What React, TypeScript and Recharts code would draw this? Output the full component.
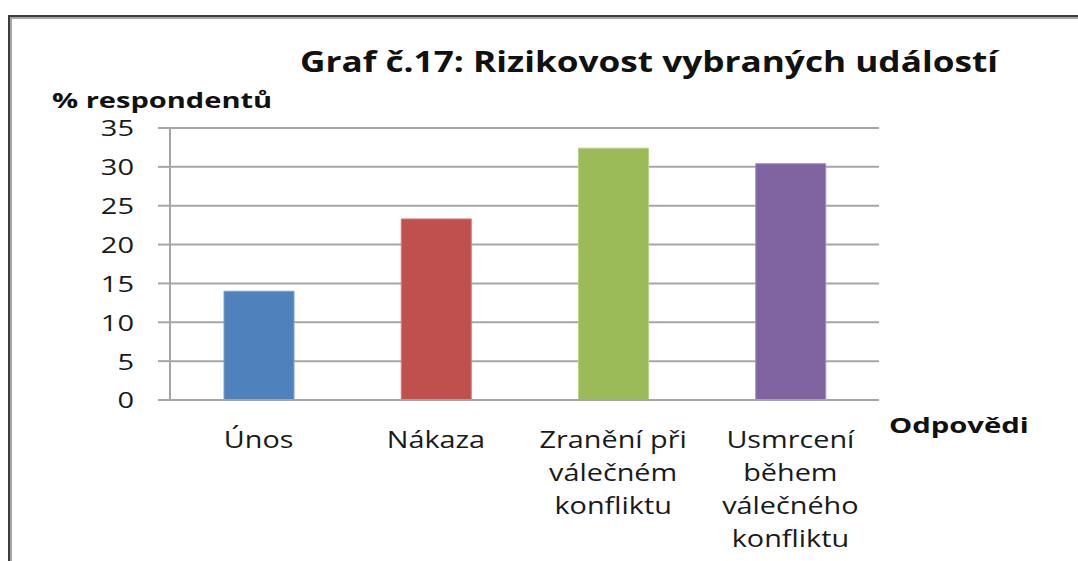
import React from "react";
import { BarChart, Bar, XAxis, YAxis, CartesianGrid, Cell } from "recharts";

// chart data
const categories = [
  "Únos",
  "Nákaza",
  "Zranění při\nválečném\nkonfliktu",
  "Usmrcení\nběhem\nválečného\nkonfliktu",
];
const percentValues = [14.0, 23.3, 32.4, 30.4];
const barColors = ["#4F81BD", "#C0504D", "#9BBB59", "#8064A2"];
const barEdges = ["#7FA2D1", "#D07E7B", "#B7D08A", "#A08BBD"];
const yTicks = [0, 5, 10, 15, 20, 25, 30, 35];

const chartTitle = "Graf č.17: Rizikovost vybraných událostí";
const yAxisTitle = "% respondentů";
const xAxisTitle = "Odpovědi";

const FONT = "'Open Sans', 'DejaVu Sans', sans-serif";

const data = categories.map((name, i) => ({ name, value: percentValues[i] }));

const CategoryTick = ({ x, y, payload }: any) => {
  const lines = String(payload.value).split("\n");
  return (
    <g>
      {lines.map((line, i) => (
        <text
          key={i}
          transform={`translate(${x},${y + 40 + i * 33}) scale(1.2,1)`}
          textAnchor="middle"
          fontFamily={FONT}
          fontSize={24}
          fill="#1a1a1a"
        >
          {line}
        </text>
      ))}
    </g>
  );
};

const ValueTick = ({ x, y, payload }: any) => (
  <text
    transform={`translate(${x},${y}) scale(1.35,1)`}
    textAnchor="end"
    dominantBaseline="central"
    fontFamily={FONT}
    fontSize={21.5}
    fill="#1a1a1a"
  >
    {payload.value}
  </text>
);

export default function App() {
  return (
    <div
      style={{
        position: "absolute",
        left: 0,
        top: 0,
        width: 1078,
        height: 561,
        overflow: "hidden",
        background: "#fff",
      }}
    >
      {/* frame of the chart area */}
      <div
        style={{
          position: "absolute",
          left: 8,
          top: 15,
          width: 1200,
          height: 700,
          borderTop: "2px solid #3c3c3c",
          borderLeft: "2px solid #3c3c3c",
        }}
      >
        <div
          style={{
            width: "100%",
            height: "100%",
            borderTop: "2px solid #a6a6a6",
            borderLeft: "2px solid #a6a6a6",
          }}
        />
      </div>

      <div style={{ position: "absolute", left: 0, top: 0 }}>
        <BarChart
          width={1078}
          height={561}
          data={data}
          margin={{ top: 128, right: 199, left: 0, bottom: 0 }}
        >
          <CartesianGrid vertical={false} stroke="#a6a6a6" strokeWidth={2} />
          <XAxis
            dataKey="name"
            height={161}
            axisLine={{ stroke: "#a6a6a6", strokeWidth: 2 }}
            tickLine={false}
            interval={0}
            tick={<CategoryTick />}
          />
          <YAxis
            width={170}
            domain={[0, 35]}
            ticks={yTicks}
            interval={0}
            axisLine={{ stroke: "#a6a6a6", strokeWidth: 2 }}
            tickLine={{ stroke: "#a6a6a6", strokeWidth: 2 }}
            tickSize={12}
            tickMargin={24}
            tick={<ValueTick />}
          />
          <Bar dataKey="value" barSize={70} isAnimationActive={false}>
            {data.map((d, i) => (
              <Cell key={d.name} fill={barColors[i]} stroke={barEdges[i]} strokeWidth={1} />
            ))}
          </Bar>
        </BarChart>
      </div>

      {/* titles */}
      <svg
        width={1078}
        height={561}
        style={{ position: "absolute", left: 0, top: 0, pointerEvents: "none" }}
      >
        <text
          transform="translate(300,72) scale(1.235,1)"
          fontFamily={FONT}
          fontWeight={700}
          fontSize={28.5}
          fill="#111"
        >
          {chartTitle}
        </text>
        <text
          transform="translate(52,108) scale(1.32,1)"
          fontFamily={FONT}
          fontWeight={700}
          fontSize={22}
          fill="#111"
        >
          {yAxisTitle}
        </text>
        <text
          transform="translate(889,433) scale(1.36,1)"
          fontFamily={FONT}
          fontWeight={700}
          fontSize={21.5}
          fill="#111"
        >
          {xAxisTitle}
        </text>
      </svg>
    </div>
  );
}
